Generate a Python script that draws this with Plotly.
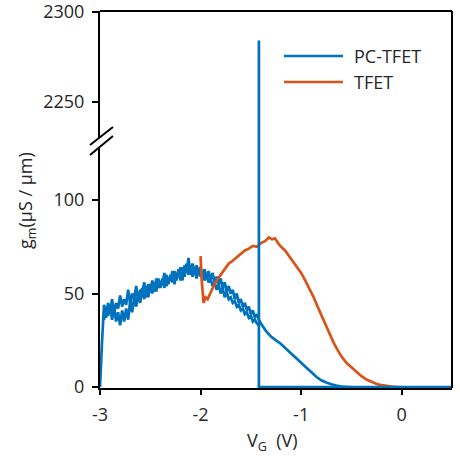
import plotly.graph_objects as go

# ---------------- data ----------------
# PC-TFET, forward sweep (x from -3.00 to -1.42)
pc_fwd_x = [-3.00, -2.98, -2.96, -2.94, -2.92, -2.90, -2.88, -2.86, -2.84, -2.82,
            -2.80, -2.78, -2.76, -2.74, -2.72, -2.70, -2.68, -2.66, -2.64, -2.62,
            -2.60, -2.58, -2.56, -2.54, -2.52, -2.50, -2.48, -2.46, -2.44, -2.42,
            -2.40, -2.38, -2.36, -2.34, -2.32, -2.30, -2.28, -2.26, -2.24, -2.22,
            -2.20, -2.18, -2.16, -2.14, -2.12, -2.10, -2.08, -2.06, -2.04, -2.02,
            -2.00, -1.98, -1.96, -1.94, -1.92, -1.90, -1.88, -1.86, -1.84, -1.82,
            -1.80, -1.78, -1.76, -1.74, -1.72, -1.70, -1.68, -1.66, -1.64, -1.62,
            -1.60, -1.58, -1.56, -1.54, -1.52, -1.50, -1.48, -1.46, -1.44, -1.42]
pc_fwd_y = [0, 24, 44, 37, 45, 40, 47, 39, 45, 42,
            49, 43, 47, 44, 52, 45, 50, 47, 54, 46,
            52, 50, 56, 48, 55, 52, 57, 51, 58, 53,
            56, 55, 61, 54, 58, 57, 62, 55, 61, 59,
            64, 57, 65, 61, 69, 60, 66, 61, 65, 62,
            64, 59, 63, 58, 62, 57, 61, 56, 59, 55,
            58, 53, 56, 51, 54, 50, 52, 47, 50, 45,
            47, 43, 45, 41, 43, 39, 41, 37, 39, 36]
# PC-TFET, tail after the spike (x from -1.40 to -0.50)
pc_tail_x = [-1.40, -1.35, -1.30, -1.25, -1.20, -1.15, -1.10, -1.05, -1.00, -0.95,
             -0.90, -0.85, -0.80, -0.75, -0.70, -0.65, -0.60, -0.55, -0.50]
pc_tail_y = [34, 30, 27, 25, 23, 20.5, 18, 15.5, 13, 10.5,
             8, 5.5, 3.6, 2.4, 1.5, 0.8, 0.3, 0.1, 0]
# PC-TFET, reverse sweep (listed with x ascending, drawn from -1.42 back to -2.96)
pc_rev_x = [-2.96, -2.94, -2.92, -2.90, -2.88, -2.86, -2.84, -2.82,
            -2.80, -2.78, -2.76, -2.74, -2.72, -2.70, -2.68, -2.66, -2.64, -2.62,
            -2.60, -2.58, -2.56, -2.54, -2.52, -2.50, -2.48, -2.46, -2.44, -2.42,
            -2.40, -2.38, -2.36, -2.34, -2.32, -2.30, -2.28, -2.26, -2.24, -2.22,
            -2.20, -2.18, -2.16, -2.14, -2.12, -2.10, -2.08, -2.06, -2.04, -2.02,
            -2.00, -1.98, -1.96, -1.94, -1.92, -1.90, -1.88, -1.86, -1.84, -1.82,
            -1.80, -1.78, -1.76, -1.74, -1.72, -1.70, -1.68, -1.66, -1.64, -1.62,
            -1.60, -1.58, -1.56, -1.54, -1.52, -1.50, -1.48, -1.46, -1.44, -1.42]
pc_rev_y = [36, 43, 38, 44, 36, 43, 35, 40,
            33, 41, 35, 42, 36, 46, 40, 48, 43, 50,
            45, 53, 47, 54, 48, 55, 50, 56, 51, 58,
            53, 58, 53, 60, 55, 60, 56, 62, 57, 63,
            57, 64, 59, 66, 60, 65, 59, 64, 58, 63,
            59, 62, 57, 60, 56, 58, 54, 56, 52, 55,
            50, 53, 48, 51, 47, 48, 45, 46, 43, 44,
            41, 42, 39, 40, 37, 38, 35, 36, 34, 33]
# PC-TFET spike and zero baseline
spike_x = [-1.42, -1.42, -1.42, 0.5]
spike_y = [0, 2284, 0, 0]

# TFET
tfet_x = [-2.00, -1.99, -1.97, -1.95, -1.93, -1.90, -1.87, -1.84, -1.80, -1.76,
          -1.72, -1.68, -1.64, -1.60, -1.56, -1.52, -1.48, -1.44, -1.40, -1.36,
          -1.32, -1.29, -1.26, -1.23, -1.20, -1.16, -1.12, -1.08, -1.04, -1.00,
          -0.96, -0.92, -0.88, -0.84, -0.80, -0.76, -0.72, -0.68, -0.64, -0.60,
          -0.55, -0.50, -0.45, -0.40, -0.35, -0.30, -0.25, -0.20, -0.15, -0.10,
          -0.05, 0.00]
tfet_y = [70, 58, 45, 48, 47, 51, 54, 57, 60, 63,
          66, 67.5, 69.5, 71.5, 73, 74, 75.5, 75, 77, 78,
          80, 79, 79.5, 77, 75, 73, 70, 67.5, 64.5, 61,
          57, 53, 48.5, 43.5, 38.5, 33.5, 28.5, 24, 20, 16.5,
          13, 10.5, 8, 5.8, 4, 2.7, 1.7, 1.0, 0.5, 0.2,
          0.05, 0]

x_tickvals = [-3, -2, -1, 0]
x_ticktext = ["-3", "-2", "-1", "0"]
y_low_ticks = [0, 50, 100]
y_high_ticks = [2250, 2300]

BLUE = "#0072BD"
ORANGE = "#D95319"
TXT = "#262626"
FONT = "Open Sans"

pc_x = pc_fwd_x + pc_tail_x
pc_y = pc_fwd_y + pc_tail_y
pc2_x = list(reversed(pc_rev_x))
pc2_y = list(reversed(pc_rev_y))

fig = go.Figure()
LW = 2.7
# lower panel
fig.add_trace(go.Scatter(x=pc2_x, y=pc2_y, mode="lines", yaxis="y",
                         line=dict(color=BLUE, width=LW, simplify=False), showlegend=False))
fig.add_trace(go.Scatter(x=pc_x, y=pc_y, mode="lines", yaxis="y",
                         line=dict(color=BLUE, width=LW, simplify=False), showlegend=False))
fig.add_trace(go.Scatter(x=tfet_x, y=tfet_y, mode="lines", yaxis="y",
                         line=dict(color=ORANGE, width=LW), showlegend=False))
fig.add_trace(go.Scatter(x=spike_x, y=spike_y, mode="lines", yaxis="y",
                         line=dict(color=BLUE, width=LW, simplify=False), showlegend=False))
# upper panel: only the spike reaches it
fig.add_trace(go.Scatter(x=spike_x[:2], y=spike_y[:2], mode="lines", yaxis="y2",
                         line=dict(color=BLUE, width=LW, simplify=False), showlegend=False))

BREAK = 0.6525
fig.update_layout(
    width=460, height=460,
    margin=dict(l=100, r=8, t=11, b=72, autoexpand=False),
    paper_bgcolor="white", plot_bgcolor="rgba(0,0,0,0)",
    font=dict(family=FONT, size=18, color=TXT),
    xaxis=dict(range=[-3, 0.5], showgrid=False, zeroline=False, showline=True,
               linecolor="black", linewidth=2, ticks="outside", ticklen=5,
               tickwidth=2, tickcolor="black", tickvals=x_tickvals,
               ticktext=x_ticktext, anchor="y", layer="below traces",
               automargin=False,
               ticklabelstandoff=4, tickfont=dict(size=18, color=TXT, family=FONT)),
    yaxis=dict(domain=[0, BREAK], range=[-0.5, 131], showgrid=False, zeroline=False,
               showline=True, linecolor="black", linewidth=2, ticks="outside",
               ticklen=6, tickwidth=2, tickcolor="black", tickvals=y_low_ticks,
               anchor="x", layer="below traces", ticklabelstandoff=4,
               automargin=False,
               tickfont=dict(size=18, color=TXT, family=FONT)),
    yaxis2=dict(domain=[BREAK, 1], range=[2228, 2300.3], showgrid=False, zeroline=False,
                showline=True, linecolor="black", linewidth=2, ticks="outside",
                ticklen=6, tickwidth=2, tickcolor="black", tickvals=y_high_ticks,
                anchor="x", layer="below traces", ticklabelstandoff=4,
                ticklabeloverflow="allow", automargin=False,
                tickfont=dict(size=18, color=TXT, family=FONT)),
    showlegend=False,
)

shapes = [
    # top and right frame
    dict(type="line", xref="paper", yref="paper", x0=0, x1=1, y0=1, y1=1,
         line=dict(color="black", width=2), layer="above"),
    dict(type="line", xref="paper", yref="paper", x0=1, x1=1, y0=0, y1=1,
         line=dict(color="black", width=2), layer="above"),
    # axis break gap
    dict(type="path", xref="paper", yref="paper",
         path="M -0.0114 0.657 L 0.0114 0.6737 L 0.0114 0.6488 L -0.0114 0.6313 Z",
         fillcolor="white", line=dict(width=0), layer="above"),
    dict(type="line", xref="paper", yref="paper", x0=-0.0284, y0=0.6446,
         x1=0.0369, y1=0.6923, line=dict(color="black", width=2)),
    dict(type="line", xref="paper", yref="paper", x0=-0.0284, y0=0.6180,
         x1=0.0369, y1=0.6684, line=dict(color="black", width=2)),
    # legend samples
    dict(type="line", xref="paper", yref="paper", x0=0.5227, x1=0.6903,
         y0=0.8806, y1=0.8806, line=dict(color=BLUE, width=2.6)),
    dict(type="line", xref="paper", yref="paper", x0=0.5227, x1=0.6903,
         y0=0.8117, y1=0.8117, line=dict(color=ORANGE, width=2.6)),
]
fig.update_layout(shapes=shapes)

annotations = [
    dict(text="PC-TFET", xref="paper", yref="paper", x=0.7159, y=0.8806,
         xanchor="left", yanchor="middle", showarrow=False,
         font=dict(size=18, color=TXT, family=FONT)),
    dict(text="TFET", xref="paper", yref="paper", x=0.7159, y=0.8117,
         xanchor="left", yanchor="middle", showarrow=False,
         font=dict(size=18, color=TXT, family=FONT)),
    dict(text="g<sub>m</sub>(μS / μm)", xref="paper", yref="paper",
         x=-0.2074, y=0.4987, xanchor="center", yanchor="middle",
         textangle=-90, showarrow=False, font=dict(size=18, color=TXT, family=FONT)),
    dict(text="V<sub>G</sub>  (V)", xref="paper", yref="paper",
         x=0.49, y=-0.1406, xanchor="center", yanchor="middle",
         showarrow=False, font=dict(size=18, color=TXT, family=FONT)),
]
fig.update_layout(annotations=annotations)

fig.write_html("out.html")
